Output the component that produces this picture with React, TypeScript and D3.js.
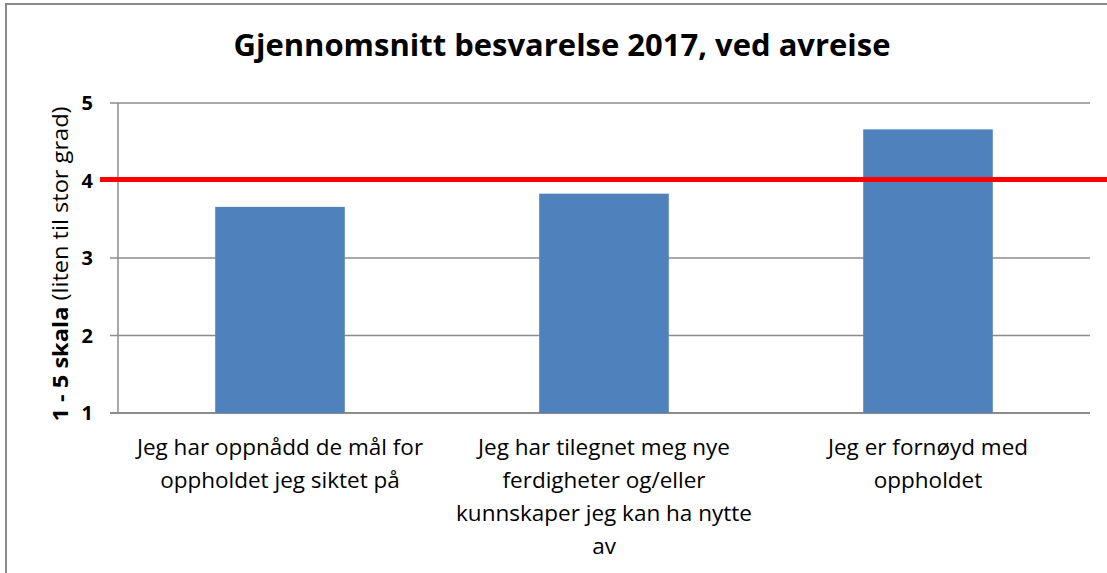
import React from 'react';
import * as d3 from 'd3';

const title = 'Gjennomsnitt besvarelse 2017, ved avreise';
const categories = [
    ['Jeg har oppnådd de mål for', 'oppholdet jeg siktet på'],
    ['Jeg har tilegnet meg nye', 'ferdigheter og/eller', 'kunnskaper jeg kan ha nytte', 'av'],
    ['Jeg er fornøyd med', 'oppholdet']
];
const values = [3.66, 3.83, 4.66];
const yTicks = [1, 2, 3, 4, 5];
const target = 4;

const W = 1107;
const H = 573;
const font = '"Open Sans", "Liberation Sans", sans-serif';

export default function App() {
    const margin = { top: 103, right: 17, bottom: 160, left: 118 };
    const w = W - margin.left - margin.right;
    const h = H - margin.top - margin.bottom;

    const scale_x = d3.scaleBand<number>()
        .domain(d3.range(values.length))
        .range([0, w])
        .paddingInner(0.6)
        .paddingOuter(0.3);

    const scale_y = d3.scaleLinear()
        .domain([1, 5])
        .range([h, 0]);

    const grid = '#8c8c8c';

    return (
        <svg width={W} height={H} style={{ position: 'absolute', left: 0, top: 0, background: '#fff' }}
            fontFamily={font}>
            <rect x={6} y={4} width={W + 10} height={H + 10} fill="#fff" stroke="#8a8a8a" strokeWidth={2} />
            <text x={562} y={56} textAnchor="middle" fontWeight="bold" fontSize={30}
                textLength={657} lengthAdjust="spacingAndGlyphs">{title}</text>

            <text transform={`translate(68, ${(margin.top + margin.top + h) / 2 + 6}) rotate(-90)`}
                textAnchor="middle" fontSize={21} textLength={315} lengthAdjust="spacingAndGlyphs">
                <tspan fontWeight="bold">1 - 5 skala</tspan>
                <tspan> (liten til stor grad)</tspan>
            </text>

            <g transform={`translate(${margin.left}, ${margin.top})`}>
                {yTicks.map((t) => (
                    <g key={t}>
                        <line x1={-8} x2={w} y1={scale_y(t)} y2={scale_y(t)}
                            stroke={grid} strokeWidth={t === 1 ? 2 : 1.5} />
                        <text x={-25} y={scale_y(t) + 7} textAnchor="end" fontWeight="bold" fontSize={20}>{t}</text>
                    </g>
                ))}
                <line x1={0} x2={0} y1={0} y2={h} stroke={grid} strokeWidth={1.5} />

                {values.map((v, i) => (
                    <rect key={i} x={scale_x(i)} y={scale_y(v)} width={scale_x.bandwidth()}
                        height={scale_y(1) - scale_y(v)} fill="#4f81bd" />
                ))}

                <line x1={-18} x2={W} y1={scale_y(target) - 1} y2={scale_y(target) - 1}
                    stroke="#ff0000" strokeWidth={5} />

                {categories.map((lines, i) => (
                    <text key={i} textAnchor="middle" fontSize={22.5} fill="#000">
                        {lines.map((l, j) => (
                            <tspan key={j} x={(scale_x(i) ?? 0) + scale_x.bandwidth() / 2}
                                y={h + 42 + j * 33}>{l}</tspan>
                        ))}
                    </text>
                ))}
            </g>
        </svg>
    );
}
